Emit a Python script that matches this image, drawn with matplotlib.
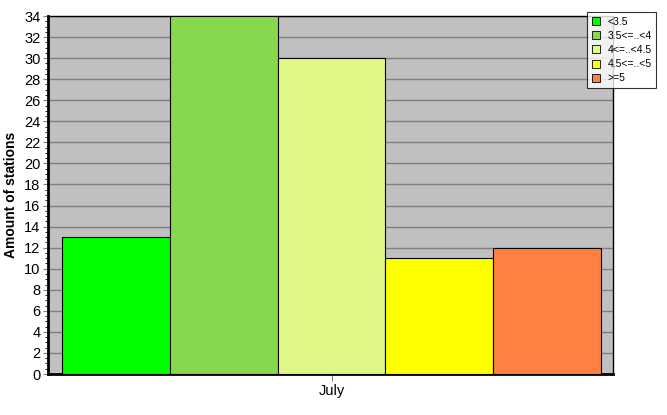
import matplotlib as mpl
mpl.use('Agg')
import matplotlib.pyplot as plt
from matplotlib.patches import Patch
from matplotlib.ticker import MultipleLocator

plt.rcParams['font.family'] = ['Liberation Sans', 'DejaVu Sans']

categories = ["<3.5", "3.5<=..<4", "4<=..<4.5", "4.5<=..<5", ">=5"]
counts = [13, 34, 30, 11, 12]
colors = ["#00ff00", "#88d84f", "#e0f986", "#ffff00", "#ff8040"]
month = "July"

fig = plt.figure(figsize=(6.67, 4.15), dpi=100)
ax = fig.add_axes([48 / 667, 41 / 415, 565 / 667, 358 / 415])
ax.set_facecolor("#c0c0c0")

pos = list(range(len(counts)))
ax.bar(pos, counts, width=1.0, color=colors, edgecolor="black", linewidth=0.8, zorder=3)

ax.set_xlim(-0.63, 4.61)
ax.set_ylim(0, 34)
ax.yaxis.set_major_locator(MultipleLocator(2))
ax.yaxis.set_minor_locator(MultipleLocator(0.5))
ax.grid(axis="y", which="major", color="#808080", linewidth=1, zorder=1)
ax.set_xticks([2])
ax.set_xticklabels([month])
ax.tick_params(axis="both", labelsize=10.5, color="#808080", pad=2)
ax.tick_params(axis="y", which="minor", length=2, width=0.6, color="black")
ax.tick_params(axis="x", length=5)

for side in ["left", "bottom"]:
    ax.spines[side].set_linewidth(2)
for side in ["right", "top"]:
    ax.spines[side].set_linewidth(1)

ax.set_ylabel("Amount of stations", fontsize=10, fontweight="bold")
ax.yaxis.set_label_coords(-0.053, 0.5)

handles = [Patch(facecolor=c, edgecolor="black", linewidth=0.6) for c in colors]
leg = fig.legend(handles, categories, loc="upper left", bbox_to_anchor=(587 / 667, 1 - 12 / 415),
                 fontsize=7.5, frameon=True, fancybox=False, handlelength=0.8, handleheight=0.8,
                 handletextpad=0.7, labelspacing=0.4, borderpad=0.45, borderaxespad=0)
leg.get_frame().set_edgecolor("black")
leg.get_frame().set_linewidth(0.8)

plt.savefig("out.png")
